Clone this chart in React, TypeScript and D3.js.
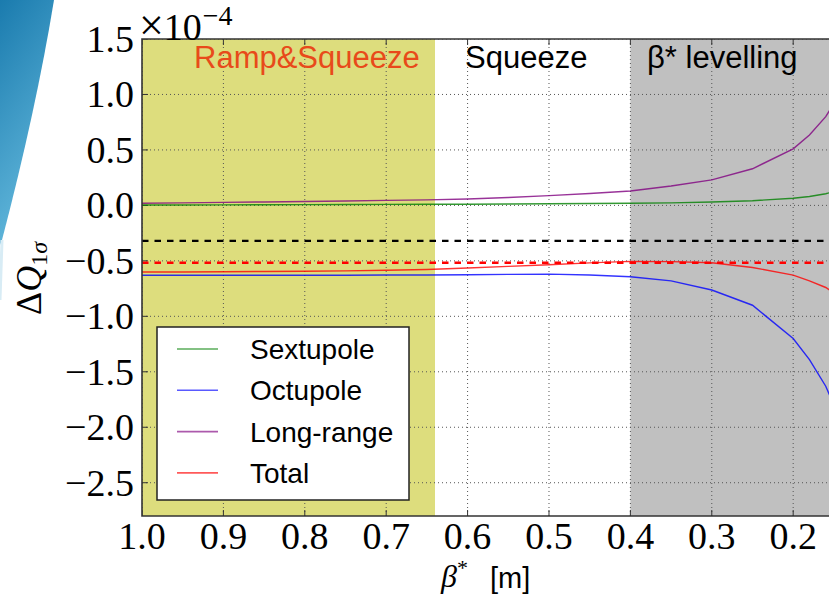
import React, { useEffect, useRef } from "react";
import * as d3 from "d3";

// beta* values (m) and tune shift contributions (x 1e-4)
const betaStar = [1.0, 0.95, 0.9, 0.85, 0.8, 0.75, 0.7, 0.65, 0.6, 0.55, 0.5, 0.45, 0.4, 0.35, 0.3, 0.25, 0.2, 0.18, 0.16, 0.15];
const sextupole = [0.003, 0.004, 0.005, 0.006, 0.007, 0.008, 0.009, 0.01, 0.011, 0.013, 0.015, 0.017, 0.019, 0.023, 0.03, 0.042, 0.064, 0.08, 0.105, 0.125];
const octupole = [-0.63, -0.63, -0.63, -0.63, -0.63, -0.63, -0.628, -0.628, -0.625, -0.622, -0.62, -0.627, -0.643, -0.68, -0.763, -0.9, -1.2, -1.39, -1.63, -1.8];
const longRange = [0.02, 0.023, 0.027, 0.031, 0.035, 0.04, 0.045, 0.05, 0.058, 0.071, 0.088, 0.107, 0.13, 0.175, 0.23, 0.33, 0.51, 0.635, 0.8, 0.92];
const total = [-0.6, -0.6, -0.598, -0.596, -0.594, -0.59, -0.585, -0.578, -0.565, -0.55, -0.535, -0.518, -0.505, -0.507, -0.517, -0.56, -0.628, -0.68, -0.74, -0.79];

const seriesNames = ["Sextupole", "Octupole", "Long-range", "Total"];
const seriesColors = ["#008000", "#0000ff", "#800080", "#ff0000"];

const xTicks = [1.0, 0.9, 0.8, 0.7, 0.6, 0.5, 0.4, 0.3, 0.2];
const yTicks = [1.5, 1.0, 0.5, 0.0, -0.5, -1.0, -1.5, -2.0, -2.5];

// machine phases along beta*
const phases = [
  { from: 1.0, to: 0.64, label: "Ramp&Squeeze", fill: "#dddd7d", color: "#e84a1a" },
  { from: 0.64, to: 0.4, label: "Squeeze", fill: "#ffffff", color: "#000000" },
  { from: 0.4, to: 0.1, label: "β* levelling", fill: "#c0c0c0", color: "#000000" },
];

// horizontal reference levels
const blackLevel = -0.32;
const redLevel = -0.517;

export default function App() {
  const ref = useRef<SVGSVGElement>(null);

  useEffect(() => {
    const width = 829;
    const height = 598;
    const left = 142, top = 39, right = 829, bottom = 516;

    const svg = d3.select(ref.current)
      .attr("width", width)
      .attr("height", height);
    svg.selectAll("*").remove();

    const x = d3.scaleLinear().domain([1.0, 0.156]).range([left, right]);
    const y = d3.scaleLinear().domain([-2.8, 1.5]).range([bottom, top]);

    const defs = svg.append("defs");
    defs.append("clipPath").attr("id", "plotclip")
      .append("rect")
      .attr("x", left).attr("y", top)
      .attr("width", right - left).attr("height", bottom - top);
    const grad = defs.append("linearGradient").attr("id", "swoosh")
      .attr("x1", 0).attr("y1", 0).attr("x2", 0.3).attr("y2", 1);
    grad.append("stop").attr("offset", "0%").attr("stop-color", "#1a7bae");
    grad.append("stop").attr("offset", "100%").attr("stop-color", "#63b8dc");

    // slide decoration, top left
    svg.append("path")
      .attr("d", "M0,0 L54,0 Q36,110 2,240 L0,245 Z")
      .attr("fill", "url(#swoosh)");
    svg.append("path")
      .attr("d", "M2,240 Q1,270 0,300")
      .attr("stroke", "#d8ecf5").attr("stroke-width", 3).attr("fill", "none");

    const plot = svg.append("g").attr("clip-path", "url(#plotclip)");

    // phase backgrounds
    plot.selectAll("rect.phase")
      .data(phases)
      .enter()
      .append("rect")
      .attr("class", "phase")
      .attr("x", d => x(d.from))
      .attr("y", top)
      .attr("width", d => x(d.to) - x(d.from))
      .attr("height", bottom - top)
      .attr("fill", d => d.fill);

    // grid
    plot.selectAll("line.vgrid")
      .data(xTicks)
      .enter()
      .append("line")
      .attr("x1", d => x(d)).attr("x2", d => x(d))
      .attr("y1", top).attr("y2", bottom)
      .attr("stroke", "#555")
      .attr("stroke-width", 1)
      .attr("stroke-dasharray", "1,3");
    plot.selectAll("line.hgrid")
      .data(yTicks)
      .enter()
      .append("line")
      .attr("x1", left).attr("x2", right)
      .attr("y1", d => y(d)).attr("y2", d => y(d))
      .attr("stroke", "#555")
      .attr("stroke-width", 1)
      .attr("stroke-dasharray", "1,3");

    // inner ticks
    xTicks.forEach(t => {
      plot.append("line").attr("x1", x(t)).attr("x2", x(t)).attr("y1", bottom).attr("y2", bottom - 6).attr("stroke", "#333");
      plot.append("line").attr("x1", x(t)).attr("x2", x(t)).attr("y1", top).attr("y2", top + 6).attr("stroke", "#333");
    });
    yTicks.forEach(t => {
      plot.append("line").attr("x1", left).attr("x2", left + 6).attr("y1", y(t)).attr("y2", y(t)).attr("stroke", "#333");
    });

    // reference dashed lines
    plot.append("line")
      .attr("x1", left).attr("x2", right)
      .attr("y1", y(blackLevel)).attr("y2", y(blackLevel))
      .attr("stroke", "#000").attr("stroke-width", 2.2)
      .attr("stroke-dasharray", "6.5,6");
    plot.append("line")
      .attr("x1", left).attr("x2", right)
      .attr("y1", y(redLevel)).attr("y2", y(redLevel))
      .attr("stroke", "#ff0000").attr("stroke-width", 2.5)
      .attr("stroke-dasharray", "6.5,6");

    // curves
    const allSeries = [sextupole, octupole, longRange, total];
    const line = d3.line<number>()
      .x((_, i) => x(betaStar[i]))
      .y(d => y(d));
    allSeries.forEach((s, k) => {
      plot.append("path")
        .datum(s)
        .attr("d", line)
        .attr("fill", "none")
        .attr("stroke", seriesColors[k])
        .attr("stroke-opacity", 0.8)
        .attr("stroke-width", 1.4);
    });

    // phase labels
    const labelX = [194, 465, 647];
    phases.forEach((p, i) => {
      svg.append("text")
        .attr("x", labelX[i])
        .attr("y", 68)
        .attr("font-family", "'Liberation Sans', Arial, sans-serif")
        .attr("font-size", 31)
        .attr("fill", p.color)
        .text(p.label);
    });

    // frame
    svg.append("path")
      .attr("d", `M${right},${top} L${left},${top} L${left},${bottom} L${right},${bottom}`)
      .attr("fill", "none")
      .attr("stroke", "#333")
      .attr("stroke-width", 1.6);

    // legend
    const lg = svg.append("g");
    lg.append("rect")
      .attr("x", 157).attr("y", 327)
      .attr("width", 252).attr("height", 173)
      .attr("fill", "#fff")
      .attr("stroke", "#222")
      .attr("stroke-width", 1.5);
    seriesNames.forEach((name, i) => {
      const ly = 349 + i * 41.3;
      lg.append("line")
        .attr("x1", 177).attr("x2", 218)
        .attr("y1", ly).attr("y2", ly)
        .attr("stroke", seriesColors[i])
        .attr("stroke-opacity", 0.65)
        .attr("stroke-width", 1.6);
      lg.append("text")
        .attr("x", 250)
        .attr("y", ly + 10)
        .attr("font-family", "'Liberation Sans', Arial, sans-serif")
        .attr("font-size", 28)
        .attr("fill", "#000")
        .text(name);
    });

    // tick labels
    const serif = "'Liberation Serif', 'Times New Roman', serif";
    const fmt = d3.format(".1f");
    svg.selectAll("text.xt")
      .data(xTicks)
      .enter()
      .append("text")
      .attr("x", d => x(d))
      .attr("y", 549)
      .attr("text-anchor", "middle")
      .attr("font-family", serif)
      .attr("font-size", 38)
      .text(d => fmt(d));
    svg.selectAll("text.yt")
      .data(yTicks)
      .enter()
      .append("text")
      .attr("x", 134)
      .attr("y", d => y(d) + 13)
      .attr("text-anchor", "end")
      .attr("font-family", serif)
      .attr("font-size", 38)
      .text(d => fmt(d));

    // offset text
    const off = svg.append("text")
      .attr("x", 139).attr("y", 40)
      .attr("font-family", serif)
      .attr("font-size", 38);
    off.append("tspan").attr("font-size", 44).text("×");
    off.append("tspan").text("10");
    off.append("tspan").attr("font-size", 28).attr("dy", -15).attr("dx", 1).text("−4");

    // x label
    const xl = svg.append("text")
      .attr("x", 441).attr("y", 587)
      .attr("font-family", serif)
      .attr("font-size", 32);
    xl.append("tspan").attr("font-style", "italic").text("β");
    xl.append("tspan").attr("font-size", 22).attr("dy", -12).text("*");
    xl.append("tspan")
      .attr("x", 490)
      .attr("y", 588)
      .attr("font-family", "'Liberation Sans', Arial, sans-serif")
      .attr("font-size", 29)
      .text("[m]");

    // y label
    const yl = svg.append("text")
      .attr("transform", "translate(41,315) rotate(-90)")
      .attr("font-family", serif)
      .attr("font-size", 36);
    yl.append("tspan").text("Δ");
    yl.append("tspan").attr("font-style", "italic").text("Q");
    yl.append("tspan").attr("font-size", 24).attr("dy", 6).text("1");
    yl.append("tspan").attr("font-size", 24).attr("font-style", "italic").text("σ");
  }, []);

  return (
    <div style={{ position: "absolute", left: 0, top: 0 }}>
      <svg ref={ref}></svg>
    </div>
  );
}
